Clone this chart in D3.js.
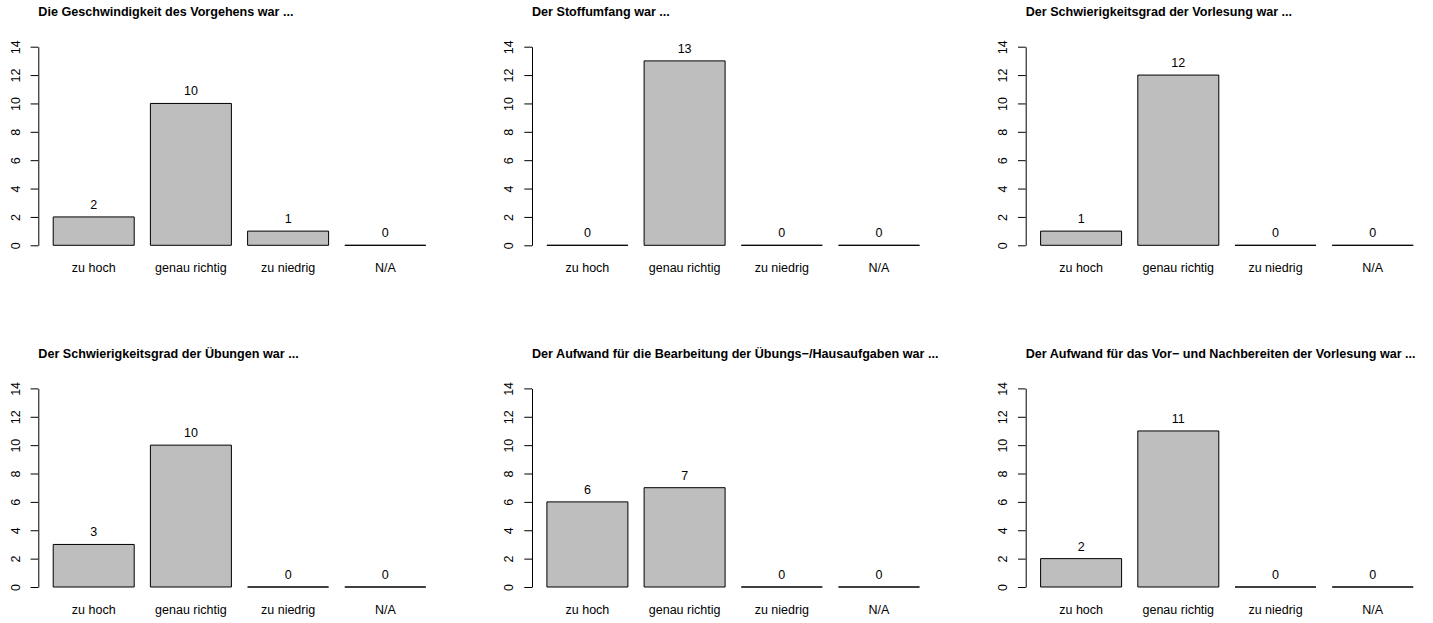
<!DOCTYPE html>
<html>
<head>
<meta charset="utf-8">
<script src="https://cdn.jsdelivr.net/npm/d3@7"></script>
<style>
  body { margin: 0; background: #fff; }
  svg text { font-family: "Liberation Sans", Arial, Helvetica, sans-serif; fill: #000; }
</style>
</head>
<body>
<div id="chart"></div>
<script>
// ===== DATA =====
const titles = [
  "Die Geschwindigkeit des Vorgehens war ...",
  "Der Stoffumfang war ...",
  "Der Schwierigkeitsgrad der Vorlesung war ...",
  "Der Schwierigkeitsgrad der Übungen war ...",
  "Der Aufwand für die Bearbeitung der Übungs−/Hausaufgaben war ...",
  "Der Aufwand für das Vor− und Nachbereiten der Vorlesung war ..."
];
const categories = ["zu hoch", "genau richtig", "zu niedrig", "N/A"];
const geschwindigkeit = [2, 10, 1, 0];
const stoffumfang = [0, 13, 0, 0];
const schwierigkeitVorlesung = [1, 12, 0, 0];
const schwierigkeitUebungen = [3, 10, 0, 0];
const aufwandHausaufgaben = [6, 7, 0, 0];
const aufwandVorlesung = [2, 11, 0, 0];
const yTicks = [0, 2, 4, 6, 8, 10, 12, 14];

const panels = [geschwindigkeit, stoffumfang, schwierigkeitVorlesung,
                schwierigkeitUebungen, aufwandHausaufgaben, aufwandVorlesung];

// ===== LAYOUT =====
const W = 1433, H = 623;
const colStep = 493.7, rowStep = 341.7;
const axisX0 = 38.3, zeroY0 = 245.3;
const barUnit = 81;          // px per bar width unit
const plotH = 198.6;         // px from 0 to 14
const fontSize = 12.5;

const svg = d3.select("#chart").append("svg")
  .attr("width", W).attr("height", H);
svg.append("rect").attr("width", W).attr("height", H).attr("fill", "#fff");

panels.forEach((values, i) => {
  const col = i % 3, row = Math.floor(i / 3);
  const ax = axisX0 + colStep * col;
  const zy = zeroY0 + rowStep * row;

  // R barplot: bars width 1, space 0.2, usr expanded by 4%
  const x = d3.scaleLinear().domain([0.016, 4.984])
    .range([ax, ax + 4.968 * barUnit]);
  const y = d3.scaleLinear().domain([0, 14]).range([zy, zy - plotH]);

  const g = svg.append("g");

  // title
  g.append("text")
    .attr("x", ax).attr("y", zy - 233)
    .attr("dominant-baseline", "central")
    .style("font-size", "12.6px").style("font-weight", "bold")
    .text(titles[i]);

  // bars (path so zero bars still show as a line)
  g.selectAll(".bar").data(values).enter().append("path")
    .attr("class", "bar")
    .attr("d", (d, k) => {
      const l = x(0.2 + 1.2 * k), r = x(1.2 + 1.2 * k);
      return `M${l},${y(0)}H${r}V${y(d)}H${l}Z`;
    })
    .attr("fill", "#bebebe")
    .attr("stroke", "#000")
    .attr("stroke-width", 1);

  // value labels
  g.selectAll(".val").data(values).enter().append("text")
    .attr("class", "val")
    .attr("x", (d, k) => x(0.7 + 1.2 * k))
    .attr("y", d => y(d) - 12)
    .attr("text-anchor", "middle")
    .attr("dominant-baseline", "central")
    .style("font-size", fontSize + "px")
    .text(d => d);

  // category labels
  g.selectAll(".cat").data(categories).enter().append("text")
    .attr("class", "cat")
    .attr("x", (d, k) => x(0.7 + 1.2 * k))
    .attr("y", zy + 23)
    .attr("text-anchor", "middle")
    .attr("dominant-baseline", "central")
    .style("font-size", fontSize + "px")
    .text(d => d);

  // y axis
  const yAxis = g.append("g")
    .attr("transform", `translate(${ax},0)`)
    .call(d3.axisLeft(y).tickValues(yTicks).tickSize(7.7).tickSizeOuter(0));
  yAxis.select(".domain").attr("stroke", "#000");
  yAxis.selectAll(".tick line").attr("stroke", "#000");
  yAxis.selectAll(".tick text")
    .attr("transform", "rotate(-90)")
    .attr("x", 0).attr("y", -22.6).attr("dy", null)
    .attr("text-anchor", "middle")
    .attr("dominant-baseline", "central")
    .attr("fill", "#000")
    .style("font-size", fontSize + "px")
    .style("font-family", "'Liberation Sans', Arial, sans-serif");
});
</script>
</body>
</html>
